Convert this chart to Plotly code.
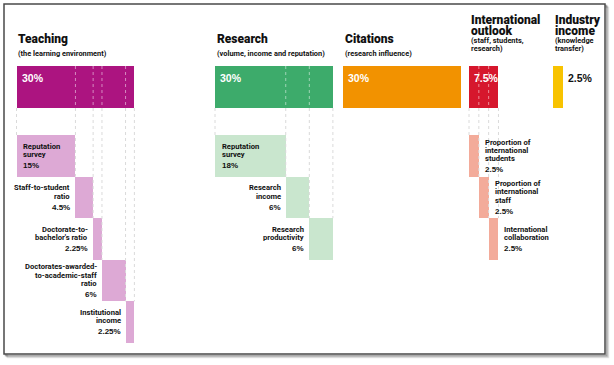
import plotly.graph_objects as go
import numpy as np

# ---------------- data ----------------
categories = ["Teaching", "Research", "Citations", "International\noutlook", "Industry\nincome"]
subtitles = ["(the learning environment)", "(volume, income and reputation)", "(research influence)",
             "(staff, students,\nresearch)", "(knowledge\ntransfer)"]
weights = [30, 30, 30, 7.5, 2.5]
weight_labels = ["30%", "30%", "30%", "7.5%", "2.5%"]

teaching_sub = ["Reputation\nsurvey", "Staff-to-student\nratio", "Doctorate-to-\nbachelor's ratio",
                "Doctorates-awarded-\nto-academic-staff\nratio", "Institutional\nincome"]
teaching_vals = [15, 4.5, 2.25, 6, 2.25]
teaching_pct = ["15%", "4.5%", "2.25%", "6%", "2.25%"]

research_sub = ["Reputation\nsurvey", "Research\nincome", "Research\nproductivity"]
research_vals = [18, 6, 6]
research_pct = ["18%", "6%", "6%"]

intl_sub = ["Proportion of\ninternational\nstudents", "Proportion of\ninternational\nstaff",
            "International\ncollaboration"]
intl_vals = [2.5, 2.5, 2.5]
intl_pct = ["2.5%", "2.5%", "2.5%"]

# ---------------- layout constants ----------------
W, H = 614, 365
PX = 3.93                      # pixels per percentage point
col_start_px = [16.5, 215, 343, 469, 553]
main_colors = ["#AC1480", "#3DAB6B", "#F29200", "#D6172D", "#F8C300"]
sub_colors = ["#DDA9D5", "#C9E6CE", None, "#F3AB9A", None]
subs = [(teaching_sub, teaching_vals, teaching_pct, "left"),
        (research_sub, research_vals, research_pct, "left"),
        None,
        (intl_sub, intl_vals, intl_pct, "right"),
        None]

TOP_Y0, TOP_Y1 = 66, 108
SUB_Y0, SUB_H = 135, 41.6

NARROW = "Roboto, Liberation Sans, sans-serif"
WIDE = "Liberation Sans, Arial, sans-serif"

fig = go.Figure()
shapes = []
annotations = []


def px2x(p):
    return p / PX


def add_lines(x, ys, lines, xanchor, size, family, color="#111", weight="bold"):
    for yy, t in zip(ys, lines):
        annotations.append(dict(x=x, y=yy, xref="x", yref="y", text=t, showarrow=False,
                                xanchor=xanchor, yanchor="middle",
                                font=dict(family=family, size=size, color=color, weight=weight)))


for i, cat in enumerate(categories):
    x0 = px2x(col_start_px[i])
    # main bar
    fig.add_trace(go.Bar(orientation="h", base=[x0], x=[weights[i]], y=[(TOP_Y0 + TOP_Y1) / 2],
                         width=[TOP_Y1 - TOP_Y0], marker=dict(color=main_colors[i], line=dict(width=0)),
                         showlegend=False, hoverinfo="skip"))
    # headers
    tl = cat.split("\n")
    if len(tl) == 1:
        add_lines(x0 - px2x(0.5), [39], tl, "left", 12, NARROW, weight=900)
    else:
        add_lines(x0 - px2x(0.5), [19.5, 31], tl, "left", 12, NARROW, weight=900)
    sl = subtitles[i].split("\n")
    if len(sl) == 1:
        add_lines(x0 - px2x(0.5), [53], sl, "left", 7.4, NARROW)
    else:
        add_lines(x0 - px2x(0.5), [40.5, 48], sl, "left", 7.4, NARROW)
    # weight label
    if weights[i] >= 5:
        add_lines(x0 + px2x(3), [78], [weight_labels[i]], "left", 10.5, WIDE, color="white")
    else:
        add_lines(x0 + weights[i] + px2x(3), [78], [weight_labels[i]], "left", 10.5, WIDE)

    if subs[i] is None:
        continue
    labels, vals, pcts, side = subs[i]
    bases = x0 + np.concatenate([[0], np.cumsum(vals)[:-1]])
    n = len(vals)
    tops = [SUB_Y0 + SUB_H * k for k in range(n)]
    centers = [t + SUB_H / 2 for t in tops]
    fig.add_trace(go.Bar(orientation="h", base=bases, x=vals, y=centers, width=[SUB_H] * n,
                         marker=dict(color=sub_colors[i], line=dict(width=0)),
                         showlegend=False, hoverinfo="skip"))
    # divider lines
    bounds = list(bases) + [x0 + sum(vals)]
    for k, bx in enumerate(bounds):
        if 0 < k < n:
            shapes.append(dict(type="line", xref="x", yref="y", x0=bx, x1=bx, y0=TOP_Y0, y1=TOP_Y1,
                               line=dict(color="rgba(255,255,255,0.5)", width=1, dash="dot")))
        ybot = tops[min(k, n - 1)]
        shapes.append(dict(type="line", xref="x", yref="y", x0=bx, x1=bx, y0=TOP_Y1, y1=ybot,
                           line=dict(color="#DADADA", width=1, dash="dot")))
    # sub labels
    for k in range(n):
        ls = labels[k].split("\n")
        LS, PG = 8.3, 11
        block = (len(ls) - 1) * LS + PG
        first = centers[k] - block / 2
        ys = [first + LS * j for j in range(len(ls))]
        pys = [ys[-1] + PG]
        if side == "left" and k == 0:
            xx, anc = bases[k] + px2x(4.5), "left"
        elif side == "left":
            xx, anc = bases[k] - px2x(3), "right"
        else:
            xx, anc = bases[k] + vals[k] + px2x(4), "left"
        add_lines(xx, ys, ls, anc, 7.6, NARROW)
        add_lines(xx, pys, [pcts[k]], anc, 8, WIDE)


# frame with soft shadow
def fx(p):
    return p / W


def fy(p):
    return 1 - p / H


for off, col in [(3.5, "rgba(0,0,0,0.10)"), (2.5, "rgba(0,0,0,0.18)"), (1.5, "rgba(0,0,0,0.30)")]:
    shapes.append(dict(type="rect", xref="paper", yref="paper", x0=fx(4 + off), x1=fx(605 + off),
                       y0=fy(354 + off), y1=fy(4 + off), line=dict(color=col, width=1.5),
                       fillcolor="rgba(0,0,0,0)", layer="below"))
shapes.append(dict(type="rect", xref="paper", yref="paper", x0=fx(4), x1=fx(605), y0=fy(354), y1=fy(4),
                   line=dict(color="#4A4A4A", width=1.5), fillcolor="white", layer="below"))

fig.update_layout(
    width=W, height=H, margin=dict(l=0, r=0, t=0, b=0),
    paper_bgcolor="white", plot_bgcolor="rgba(0,0,0,0)",
    barmode="overlay", bargap=0,
    xaxis=dict(range=[0, W / PX], visible=False, fixedrange=True),
    yaxis=dict(range=[H, 0], visible=False, fixedrange=True),
    shapes=shapes, annotations=annotations,
)

fig.write_html("out.html", config={"displayModeBar": False},
               post_script="document.body.style.margin='0';document.body.style.padding='0';")
